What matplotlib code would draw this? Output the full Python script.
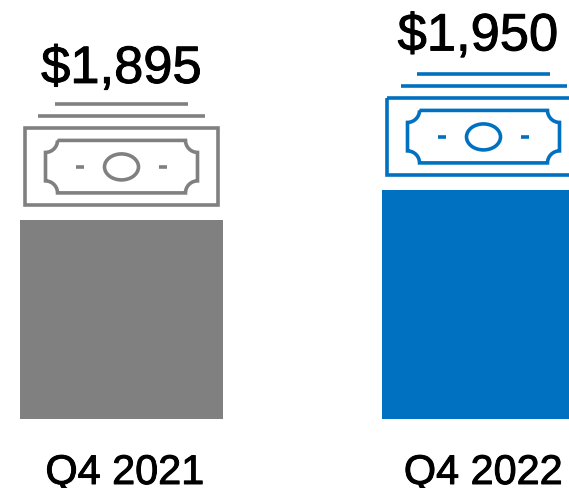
import matplotlib
matplotlib.use("Agg")
import matplotlib.pyplot as plt
import matplotlib.patheffects as pe
from matplotlib.patches import Ellipse, PathPatch, Rectangle
from matplotlib.path import Path
from matplotlib.transforms import Affine2D

plt.rcParams['font.family'] = ['Liberation Sans', 'DejaVu Sans']

categories = ["Q4 2021", "Q4 2022"]
values = [1895, 1950]
value_labels = ["$1,895", "$1,950"]
colors = ["#808080", "#0070C0"]
baseline = 1530

W, H = 569, 488
PX_PER_CAT = 362.0
PX_PER_USD = 30 / 55

fig = plt.figure(figsize=(W / 100, H / 100), dpi=100)
ax = fig.add_axes([0, 0, 1, 1])
ax.set_xlim(-121.5 / PX_PER_CAT, (W - 121.5) / PX_PER_CAT)
ax.set_ylim(baseline - (H - 419) / PX_PER_USD, baseline + 419 / PX_PER_USD)
ax.axis("off")

ax.bar(range(len(values)), [v - baseline for v in values], bottom=baseline,
       width=203 / PX_PER_CAT, color=colors, linewidth=0)

LW = 3.6 * 72 / 100
BOLD = [pe.withStroke(linewidth=0.7, foreground="black")]


def bill_path(hw, top, bottom, r):
    k = 0.55 * r
    M, L, C = Path.MOVETO, Path.LINETO, Path.CURVE4
    verts = [(-hw + r, top), (hw - r, top),
             (hw - r, top + k), (hw - k, top + r), (hw, top + r),
             (hw, bottom - r),
             (hw - k, bottom - r), (hw - r, bottom - k), (hw - r, bottom),
             (-hw + r, bottom),
             (-hw + r, bottom - k), (-hw + k, bottom - r), (-hw, bottom - r),
             (-hw, top + r),
             (-hw + k, top + r), (-hw + r, top + k), (-hw + r, top)]
    codes = [M, L, C, C, C, L, C, C, C, L, C, C, C, L, C, C, C]
    return Path(verts, codes)


def draw_icon(i, v, color):
    ax_x, ax_y = ax.transData.transform((i, v))
    t = Affine2D().scale(1, -1).translate(ax_x, ax_y)
    kw = dict(transform=t, fill=False, edgecolor=color, linewidth=LW,
              clip_on=False, joinstyle="miter")
    ax.add_patch(Rectangle((-96.5, -91.5), 193, 76.5, **kw))
    ax.add_patch(PathPatch(bill_path(76, -79.5, -27, 12), **kw))
    ax.add_patch(Ellipse((0, -53), 34, 26, **kw))
    for x0, x1, y in [(-66.5, 66.5, -116), (-83, 83, -103.5),
                      (-45.5, -37.5, -53), (37.5, 45.5, -53)]:
        ax.plot([x0, x1], [y, y], transform=t, color=color, lw=LW,
                solid_capstyle="butt", clip_on=False)


for i, (cat, v, lab, c) in enumerate(zip(categories, values, value_labels, colors)):
    draw_icon(i, v, c)
    ax.annotate(lab, (i, v), xytext=(0 if i == 0 else -5.5, 137 if i == 0 else 139.5),
                textcoords="offset pixels",
                ha="center", va="baseline", fontsize=37.8, color="black", path_effects=BOLD)
    ax.annotate(cat, (i, baseline), xytext=(3.5 if i == 0 else 0, -65), textcoords="offset pixels",
                ha="center", va="baseline", fontsize=29.8, color="black", path_effects=BOLD)

fig.savefig("out.png", dpi=100)
